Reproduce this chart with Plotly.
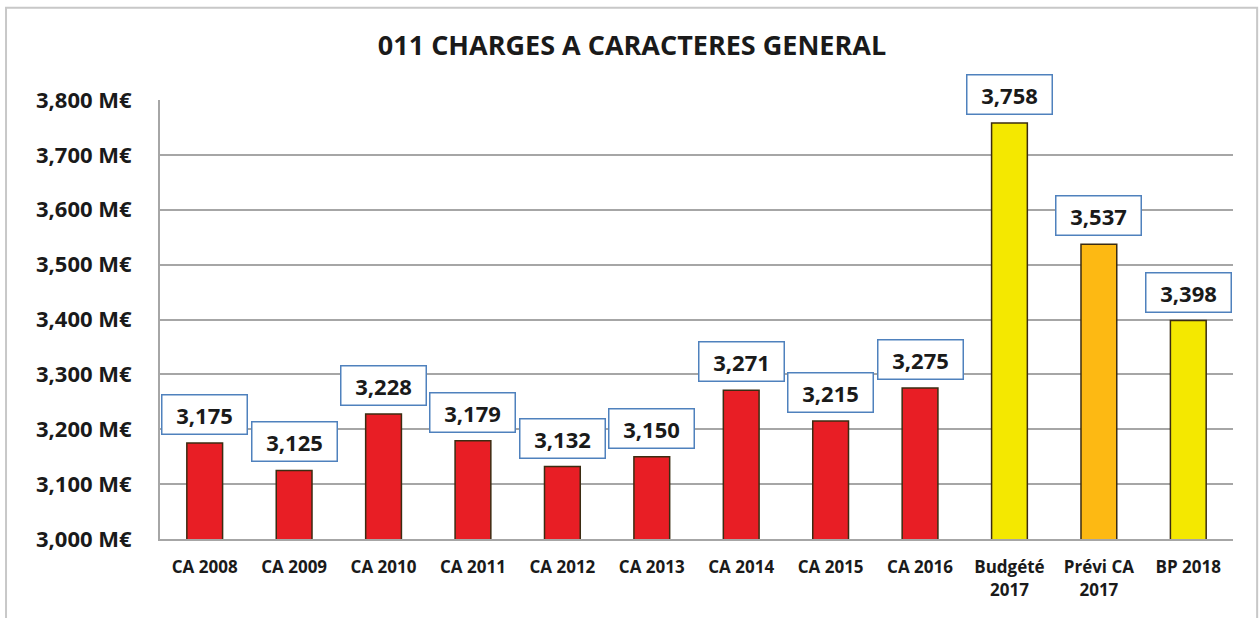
import plotly.graph_objects as go

categories = ["CA 2008", "CA 2009", "CA 2010", "CA 2011", "CA 2012", "CA 2013",
              "CA 2014", "CA 2015", "CA 2016", "Budgété<br>2017", "Prévi CA<br>2017", "BP 2018"]
values = [3175, 3125, 3228, 3179, 3132, 3150, 3271, 3215, 3275, 3758, 3537, 3398]
bar_colors = ["#e81e25"] * 9 + ["#f4e800", "#fdb913", "#f4e800"]

y_ticks = [3000, 3100, 3200, 3300, 3400, 3500, 3600, 3700, 3800]
y_tick_text = [f"{v:,} M€" for v in y_ticks]

FONT = "Open Sans"

fig = go.Figure()
fig.add_trace(go.Bar(
    x=categories, y=values,
    marker=dict(color=bar_colors, line=dict(color="#3b2c12", width=1.5)),
    width=0.4,
    hoverinfo="x+y",
))

# value labels in blue boxes above each bar
for cat, val in zip(categories, values):
    fig.add_annotation(
        x=cat, y=val, text=f"<b>{val:,}</b>",
        showarrow=False, yanchor="bottom", yshift=8,
        font=dict(family=FONT, size=22, color="#1a1a1a"),
        bgcolor="white", bordercolor="#4f81bd", borderwidth=1.5,
        borderpad=4, width=76,
    )

# outer frame
fig.add_shape(type="rect", xref="paper", yref="paper",
              x0=-0.1435, x1=1.0225, y0=-0.25, y1=1.21,
              line=dict(color="#c8c8c8", width=2), layer="below")

fig.update_layout(
    width=1259, height=618,
    paper_bgcolor="white", plot_bgcolor="white",
    margin=dict(l=160, r=26, t=100, b=79),
    title=dict(text="<b>011 CHARGES A CARACTERES GENERAL</b>",
               x=0.502, xanchor="center", y=0.927, yanchor="middle",
               font=dict(family=FONT, size=27, color="#1a1a1a")),
    showlegend=False,
    font=dict(family=FONT, color="#1a1a1a"),
)
fig.update_xaxes(
    type="category", showgrid=False, showline=True, linecolor="#a6a6a6", linewidth=2,
    ticks="", ticklabelstandoff=12,
    tickfont=dict(family=FONT, size=17, color="#1a1a1a", weight="bold"),
)
fig.update_yaxes(
    range=[3000, 3800], tickvals=y_ticks, ticktext=y_tick_text,
    showgrid=True, gridcolor="#a6a6a6", gridwidth=2,
    showline=True, linecolor="#a6a6a6", linewidth=2, zeroline=False,
    ticks="", ticklabelstandoff=22,
    tickfont=dict(family=FONT, size=22, color="#1a1a1a", weight="bold"),
)

fig.write_html("out.html", config={"displayModeBar": False},
               post_script="document.body.style.margin='0';")
